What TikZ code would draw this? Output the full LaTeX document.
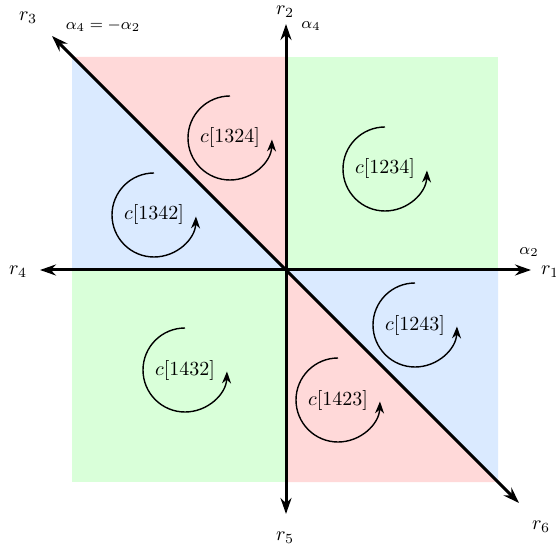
\documentclass[tikz,border=0pt]{standalone}
\usetikzlibrary{arrows.meta}
\definecolor{pinkreg}{RGB}{255,217,217}
\definecolor{greenreg}{RGB}{217,255,217}
\definecolor{bluereg}{RGB}{218,234,255}
\begin{document}
\begin{tikzpicture}[x=0.5pt,y=-0.5pt,
  axis/.style={line width=1.5pt,{Stealth[length=8pt,width=5.5pt]}-{Stealth[length=8pt,width=5.5pt]}},
  rot/.style={line width=0.7pt,-{Stealth[length=6pt,width=4.5pt]}},
  lab/.style={inner sep=0pt},
  smalllab/.style={inner sep=0pt,font=\footnotesize}]
\useasboundingbox (0,0) rectangle (556,550);
\coordinate (O) at (286,270);
% regions
\fill[pinkreg] (O) -- (286,57) -- (72,57) -- cycle;
\fill[bluereg] (O) -- (72,57) -- (72,270) -- cycle;
\fill[greenreg] (286,57) rectangle (498,270);
\fill[greenreg] (72,270) rectangle (286,482);
\fill[pinkreg] (O) -- (286,482) -- (498,482) -- cycle;
\fill[bluereg] (O) -- (498,482) -- (498,270) -- cycle;
% axis tips
\coordinate (t1) at (531,270);
\coordinate (t4) at (40,270);
\coordinate (t2) at (286,24);
\coordinate (t5) at (286,514);
\coordinate (t3) at (52,36);
\coordinate (t6) at (519,503);
\draw[axis] (t4) -- (t1);
\draw[axis] (t5) -- (t2);
\draw[axis] (t3) -- (t6);
% labels
\node[lab] (r1) at (550,272) {$r_1$};
\node[lab] (r2) at (285,12) {$r_2$};
\node[lab] (r3) at (28,18) {$r_3$};
\node[lab] (r4) at (18,272) {$r_4$};
\node[lab] (r5) at (285,538) {$r_5$};
\node[lab] (r6) at (541,527) {$r_6$};
\node[smalllab] (a2) at (529,252) {$\alpha_2$};
\node[smalllab] (a4) at (311,26) {$\alpha_4$};
\node[smalllab] (a42) at (103,26) {$\alpha_4=-\alpha_2$};
% rotations
\foreach \n/\cx/\cy in {1324/230/138, 1234/385/169, 1342/154/215, 1243/415/325, 1432/185/370, 1423/338/400}{
  \node[inner sep=0pt] (c\n) at (\cx,\cy) {$c[\n]$};
  \draw[rot] (c\n.center) ++(0pt,21pt) arc[start angle=90,end angle=358,radius=21pt];
}
\end{tikzpicture}
\end{document}
